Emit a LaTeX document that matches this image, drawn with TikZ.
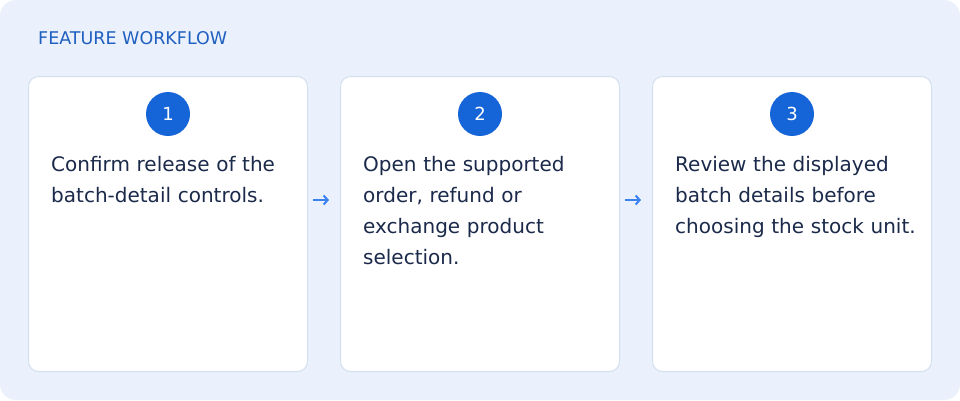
\documentclass[tikz,border=0pt]{standalone}
\usepackage{fontspec}
\setmainfont{DejaVu Sans}
\usetikzlibrary{positioning,arrows.meta}
\definecolor{panelbg}{HTML}{EAF1FD}
\definecolor{cardline}{HTML}{D3DEEE}
\definecolor{stepblue}{HTML}{1565D8}
\definecolor{arrowblue}{HTML}{3B82F0}
\definecolor{titleblue}{HTML}{1F5FBF}
\definecolor{bodytext}{HTML}{1B2A4A}
\tikzset{>=stealth,
  card/.style = {draw=cardline,line width=1pt,fill=white,rounded corners=10pt,
    minimum width=279pt,minimum height=295pt,anchor=north west},
  badge/.style = {circle,fill=stepblue,minimum size=44pt,inner sep=0pt,
    text=white,font=\fontsize{18}{18}\selectfont},
  step text/.style = {anchor=north west,align=left,text width=280pt,inner sep=0pt,
    text=bodytext,font=\fontsize{20}{31}\selectfont},
  flow/.style = {-{Straight Barb[length=4pt,width=9pt,line width=2pt]},draw=arrowblue,line width=2pt}
}
\begin{document}
\begin{tikzpicture}[x=1pt,y=-1pt]
  \fill[panelbg,rounded corners=16pt] (0,0) rectangle (960,400);
  \node[anchor=base west,inner sep=0pt,text=titleblue,font=\fontsize{17.5}{17.5}\selectfont]
    (title) at (38,44) {FEATURE WORKFLOW};

  \node[card] (c1) at (28,76) {};
  \node[card] (c2) at (340,76) {};
  \node[card] (c3) at (652,76) {};

  \node[badge] (b1) at (168,114) {1};
  \node[badge] (b2) at (480,114) {2};
  \node[badge] (b3) at (792,114) {3};

  \node[step text] (t1) at (51,156) {Confirm release of the\\batch-detail controls.};
  \node[step text] (t2) at (363,156) {Open the supported\\order, refund or\\exchange product\\selection.};
  \node[step text] (t3) at (675,156) {Review the displayed\\batch details before\\choosing the stock unit.};

  \coordinate (a1) at (313,200);
  \coordinate (a2) at (625,200);
  \draw[flow] (a1) -- ++(16,0);
  \draw[flow] (a2) -- ++(16,0);
\end{tikzpicture}
\end{document}
